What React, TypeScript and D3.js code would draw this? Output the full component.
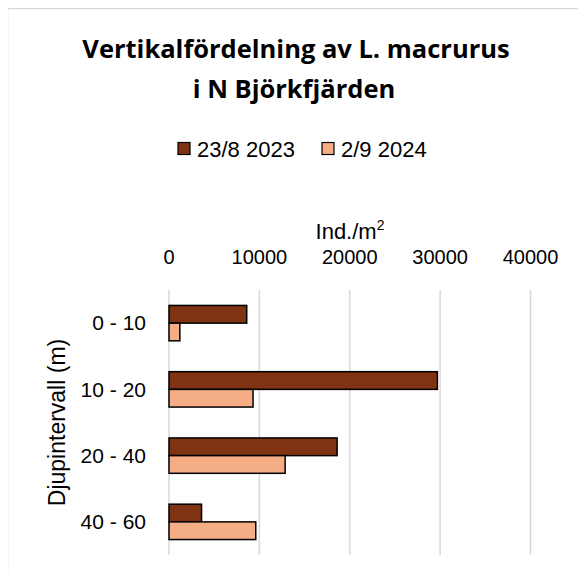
import React from "react";
import * as d3 from "d3";

const categories = ["0 - 10", "10 - 20", "20 - 40", "40 - 60"];
const seriesNames = ["23/8 2023", "2/9 2024"];
const series2023 = [8600, 29700, 18600, 3600];
const series2024 = [1200, 9300, 12850, 9600];
const xTicks = [0, 10000, 20000, 30000, 40000];
const colors = ["#7F3312", "#F4AD84"];

const W = 570;
const H = 564;
const FONT = "'Liberation Sans', Arial, sans-serif";
const TITLE_FONT = "'Open Sans', sans-serif";

export default function App() {
  const x = d3.scaleLinear().domain([0, 40000]).range([169, 530.5]);
  const y = d3
    .scaleBand<string>()
    .domain(categories)
    .range([290, 555])
    .paddingInner(0.466)
    .paddingOuter(0.233);
  const sub = d3
    .scaleBand<number>()
    .domain([0, 1])
    .range([0, y.bandwidth()]);
  const data = [series2023, series2024];

  return (
    <svg width={W} height={H} style={{ display: "block" }} fontFamily={FONT}>
      <g transform="translate(-8,-8)">
        <rect x={0} y={0} width={2000} height={2000} fill="#fff" />
        <rect
          x={7.5}
          y={8.5}
          width={1000}
          height={1000}
          fill="#fff"
          stroke="#D9D9D9"
          strokeWidth={1.5}
        />
        {/* Title */}
        <text
          x={296}
          y={58}
          textAnchor="middle"
          fontFamily={TITLE_FONT}
          fontWeight="bold"
          fontSize={25.5}
          fill="#000"
        >
          Vertikalfördelning av L. macrurus
        </text>
        <text
          x={294}
          y={98}
          textAnchor="middle"
          fontFamily={TITLE_FONT}
          fontWeight="bold"
          fontSize={25.5}
          fill="#000"
        >
          i N Björkfjärden
        </text>
        {/* Legend */}
        {seriesNames.map((name, i) => {
          const lx = i === 0 ? 178 : 322;
          return (
            <g key={name}>
              <rect
                x={lx}
                y={142.5}
                width={12}
                height={12}
                fill={colors[i]}
                stroke="#000"
                strokeWidth={1.2}
              />
              <text x={lx + 19} y={156.5} fontSize={22} fill="#000">
                {name}
              </text>
            </g>
          );
        })}
        {/* Axis title */}
        <text x={350} y={239} textAnchor="middle" fontSize={22} fill="#000">
          Ind./m
          <tspan dy={-9} fontSize={14}>
            2
          </tspan>
        </text>
        {/* Gridlines and ticks */}
        {xTicks.map((t) => (
          <g key={t}>
            <line
              x1={x(t)}
              x2={x(t)}
              y1={290}
              y2={555}
              stroke="#D9D9D9"
              strokeWidth={1.5}
            />
            <text x={x(t)} y={264} textAnchor="middle" fontSize={20} fill="#000">
              {t}
            </text>
          </g>
        ))}
        {/* Bars */}
        {categories.map((c, ci) =>
          data.map((s, si) => (
            <rect
              key={c + si}
              x={x(0)}
              y={(y(c) as number) + (sub(si) as number)}
              width={x(s[ci]) - x(0)}
              height={sub.bandwidth()}
              fill={colors[si]}
              stroke="#000"
              strokeWidth={1.5}
            />
          ))
        )}
        {/* Category labels */}
        {categories.map((c) => (
          <text
            key={c}
            x={146}
            y={(y(c) as number) + y.bandwidth() / 2}
            dy="0.35em"
            textAnchor="end"
            fontSize={21}
            fill="#000"
          >
            {c}
          </text>
        ))}
        {/* Y axis title */}
        <text
          transform={`translate(65,${(290 + 555) / 2}) rotate(-90)`}
          textAnchor="middle"
          fontSize={23}
          fill="#000"
        >
          Djupintervall (m)
        </text>
      </g>
    </svg>
  );
}
